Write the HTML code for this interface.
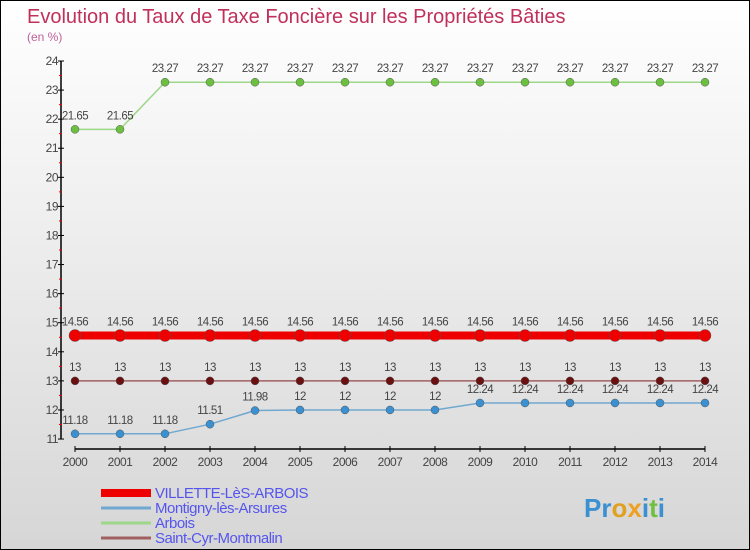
<!DOCTYPE html>
<html><head><meta charset="utf-8"><style>
body{margin:0}
#c{width:750px;height:550px;position:relative;box-sizing:border-box;border:1px solid #000;background:linear-gradient(#fff,#d6d6d6);font-family:"Liberation Sans",sans-serif;overflow:hidden}
</style></head><body>
<div id="c">
<svg id="s" width="748" height="548" xmlns="http://www.w3.org/2000/svg">
<text x="26" y="22" font-size="20" fill="#c0305a">Evolution du Taux de Taxe Foncière sur les Propriétés Bâties</text>
<text x="26" y="40" font-size="12" fill="#c0609a">(en %)</text>
<g id="g"></g>
</svg>
</div>
<script>
const years=[2000,2001,2002,2003,2004,2005,2006,2007,2008,2009,2010,2011,2012,2013,2014];
const yTicks=[11,12,13,14,15,16,17,18,19,20,21,22,23,24];
const villette=[14.56,14.56,14.56,14.56,14.56,14.56,14.56,14.56,14.56,14.56,14.56,14.56,14.56,14.56,14.56];
const montigny=[11.18,11.18,11.18,11.51,11.98,12,12,12,12,12.24,12.24,12.24,12.24,12.24,12.24];
const arbois=[21.65,21.65,23.27,23.27,23.27,23.27,23.27,23.27,23.27,23.27,23.27,23.27,23.27,23.27,23.27];
const saintcyr=[13,13,13,13,13,13,13,13,13,13,13,13,13,13,13];
const NS="http://www.w3.org/2000/svg";
const g=document.getElementById('g');
const X=i=>74+i*45;
const Y=v=>60+(24-v)*29.08;
function mk(t,a,p){const e=document.createElementNS(NS,t);for(const k in a)e.setAttribute(k,a[k]);(p||g).appendChild(e);return e;}
let ax=mk('line',{x1:60,y1:Y(24),x2:60,y2:Y(11),stroke:'#000','stroke-width':1.5});


let bx=mk('line',{x1:X(0),y1:448,x2:X(14),y2:448,stroke:'#000','stroke-width':1.5});


yTicks.forEach(v=>{
 mk('line',{x1:57,y1:Y(v),x2:63,y2:Y(v),stroke:'#000'});
 if(v<24) mk('line',{x1:58,y1:Y(v+0.5),x2:61,y2:Y(v+0.5),stroke:'#e00'});
 const t=mk('text',{x:57,y:Y(v)+4,'font-size':12,fill:'#444','text-anchor':'end','letter-spacing':'-0.5'});
 t.textContent=v;
 
 
});
years.forEach((yr,i)=>{
 mk('line',{x1:X(i),y1:445,x2:X(i),y2:451,stroke:'#000'});
 const t=mk('text',{x:X(i),y:465,'font-size':12,fill:'#444','text-anchor':'middle','letter-spacing':'-0.5'});
 t.textContent=yr;
 
 
});
function series(data,name,color,dot,w,r){
 const grp=mk('g',{});
 
 
 const l=mk('polyline',{points:data.map((v,i)=>X(i)+','+Y(v)).join(' '),fill:'none',stroke:color,'stroke-width':w},grp);
 
 
 data.forEach((v,i)=>{
  const c=mk('circle',{cx:X(i),cy:Y(v),r:r,fill:dot,stroke:'#555','stroke-width':0.5},grp);
  
  
  const t=mk('text',{x:X(i),y:Y(v)-10,'font-size':11.5,fill:'#444','text-anchor':'middle','letter-spacing':'-0.5'},grp);
  t.textContent=v;
  
  
 });
}
series(arbois,'arbois','#9ed68a','#6cc040',1.5,4);
series(saintcyr,'saint-cyr','#a06060','#6a1010',1.5,4);
series(montigny,'montigny','#70a8d0','#3a90d0',1.5,4);
series(villette,'villette','#ee0000','#ee0000',8,6);
const leg=[['VILLETTE-LèS-ARBOIS','#ee0000',8],['Montigny-lès-Arsures','#70a8d0',3],['Arbois','#9ed68a',3],['Saint-Cyr-Montmalin','#a06060',3]];
leg.forEach((L,i)=>{
 const y=492+i*15;
 const ln=mk('line',{x1:100,y1:y,x2:150,y2:y,stroke:L[1],'stroke-width':L[2]});
 
 
 const t=mk('text',{x:154,y:y+5,'font-size':15,fill:'#5555ee','letter-spacing':'-0.5'});
 t.textContent=L[0];
 
 
});
const lg=mk('text',{x:583,y:516,'font-size':26,'font-weight':'bold',fill:'#3a90d0'});
lg.innerHTML='Pr<tspan fill="#e0a020">o</tspan><tspan fill="#f0a020">x</tspan><tspan fill="#3a90d0">i</tspan><tspan fill="#70c040">t</tspan><tspan fill="#3a90d0">i</tspan>';


</script>
</body></html>
